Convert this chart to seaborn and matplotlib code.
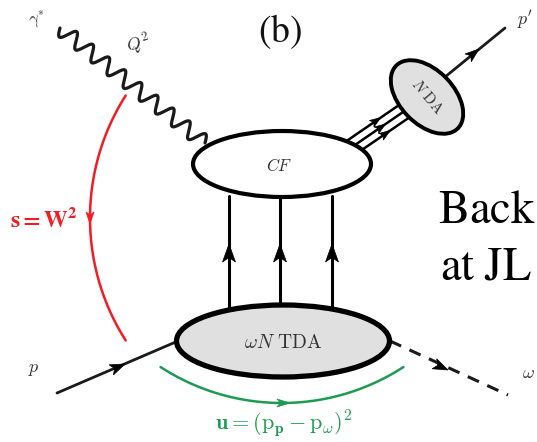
import numpy as np
import matplotlib
matplotlib.use("Agg")
import matplotlib.pyplot as plt
import seaborn as sns
from matplotlib.patches import Ellipse, Polygon

sns.set_style("white")
plt.rcParams["mathtext.fontset"] = "cm"

# labels of the diagram
title_label = r"$\mathrm{(b)}$"
photon_label = r"$\gamma^{*}$"
q2_label = r"$Q^{2}$"
cf_label = r"$CF$"
tda_label = r"$\omega N\ \mathrm{TDA}$"
nda_label = r"$N\ \mathrm{DA}$"
p_label = r"$p$"
pprime_label = r"$p'$"
omega_label = r"$\omega$"
s_label = r"$\mathbf{s = W^{2}}$"
u_label = r"$\mathbf{u} = (\mathrm{p}_{\mathbf{p}} - \mathrm{p}_{\omega})^{\mathbf{2}}$"
side_text = [r"$\mathrm{Back}$", r"$\mathrm{at\ JL}$"]

RED = "#f21c24"
GREEN = "#1f9a52"
GRAY = "#e0e0e0"

fig = plt.figure(figsize=(5.37, 4.42), dpi=100)
ax = fig.add_axes([0, 0, 1, 1])
ax.set_xlim(0, 537)
ax.set_ylim(442, 0)
ax.axis("off")


def head(tip, direction, length=14, width=11, color="black"):
    d = np.asarray(direction, float)
    d = d / np.linalg.norm(d)
    n = np.array([-d[1], d[0]])
    tip = np.asarray(tip, float)
    base = tip - d * length
    notch = tip - d * length * 0.75
    pts = [tip, base + n * width / 2, notch, base - n * width / 2]
    ax.add_patch(Polygon(pts, closed=True, facecolor=color, edgecolor=color, lw=0.5, zorder=6))


def line(xs, ys, **kw):
    sns.lineplot(x=np.asarray(xs, float), y=np.asarray(ys, float), sort=False,
                 estimator=None, ax=ax, **kw)


def seg(p0, p1, **kw):
    line([p0[0], p1[0]], [p0[1], p1[1]], **kw)


# photon wavy line
A = np.array([60.0, 28.0])
B = np.array([205.0, 143.0])
t = np.linspace(0, 1, 800)
d = B - A
L = np.linalg.norm(d)
u = d / L
nrm = np.array([-u[1], u[0]])
wave = np.sin(2 * np.pi * 9.0 * t) * 7.5
line(A[0] + d[0] * t + nrm[0] * wave, A[1] + d[1] * t + nrm[1] * wave,
     color="#1a1a1a", lw=2.3, zorder=3)

# CF ellipse
ax.add_patch(Ellipse((282, 164), 178, 66, facecolor="white", edgecolor="black", lw=3.0, zorder=4))
ax.text(279, 166, cf_label, fontsize=12, ha="center", va="center", color="#333333", zorder=7)

# three vertical lines with arrows
for x in (229, 280, 332):
    seg((x, 196), (x, 307), color="black", lw=2.2, zorder=2)
    head((x, 244), (0, -1), length=18, width=13)

# TDA ellipse
ax.add_patch(Ellipse((283, 341), 213, 72, facecolor=GRAY, edgecolor="black", lw=3.8, zorder=4))
ax.text(283, 342, tda_label, fontsize=14, ha="center", va="center", color="#333333", zorder=7)

# incoming proton
seg((57, 393), (178, 341), color="#1a1a1a", lw=2.0, zorder=3)
head((125, 364), (121, -52), length=15, width=11)
ax.text(34, 369, p_label, fontsize=13, ha="center", va="center", color="#333333")

# outgoing omega (dashed)
seg((390, 341), (508, 395), color="#1a1a1a", lw=2.2, zorder=3, linestyle=(0, (4, 3)))
head((448, 370), (118, 54), length=15, width=11)
ax.text(522, 373, omega_label, fontsize=13, ha="left", va="center", color="#333333")

# N DA ellipse and three lines
for off in (-8, 0, 8):
    o = np.array([0.59, 0.81]) * off
    p0 = np.array([352.0, 147.0]) + o
    p1 = np.array([406.0, 110.0]) + o
    seg(p0, p1, color="black", lw=1.8, zorder=2)
    head(p0 + (p1 - p0) * 0.62, p1 - p0, length=11, width=8)

seg((445, 77), (505, 28), color="#1a1a1a", lw=2.0, zorder=2)
head((479, 49), (60, -49), length=14, width=10)
ax.add_patch(Ellipse((427, 97), 88, 54, angle=46, facecolor=GRAY, edgecolor="black", lw=2.8, zorder=4))
ax.text(427, 97, nda_label, fontsize=11, ha="center", va="center", rotation=-50, color="#333333", zorder=7)
ax.text(525, 20, pprime_label, fontsize=13, ha="center", va="center", color="#333333")

# photon labels
ax.text(38, 20, photon_label, fontsize=12, ha="center", va="center", color="#333333", rotation=15)
ax.text(138, 44, q2_label, fontsize=13, ha="center", va="center", color="#333333", rotation=15)

# red arc s = W^2
R = 228.0
cx, cy = 318.0, 218.0
th = np.linspace(-np.radians(32.5), np.radians(32.5), 200)
line(cx - R * np.cos(th), cy + R * np.sin(th), color=RED, lw=1.8, zorder=3)
head((90, 224), (0, 1), length=12, width=8, color=RED)
ax.text(78, 220, s_label, fontsize=17, ha="right", va="center", color=RED, math_fontfamily="stix")

# green arc u
Rg = 223.0
gx, gy = 282.0, 180.0
tg = np.linspace(-np.radians(33), np.radians(33), 200)
line(gx + Rg * np.sin(tg), gy + Rg * np.cos(tg), color=GREEN, lw=1.8, zorder=3)
head((290, 403), (1, 0), length=13, width=8, color=GREEN)
ax.text(284, 424, u_label, fontsize=16, ha="center", va="center", color=GREEN)

# title
ax.text(280, 32, title_label, fontsize=27, ha="center", va="center", color="#111111", math_fontfamily="stix")

# side text
ax.text(438, 223, side_text[0], fontsize=33.5, ha="left", va="baseline", color="black", math_fontfamily="stix")
ax.text(440, 279, side_text[1], fontsize=33.5, ha="left", va="baseline", color="black", math_fontfamily="stix")

fig.savefig("out.png", dpi=100)
